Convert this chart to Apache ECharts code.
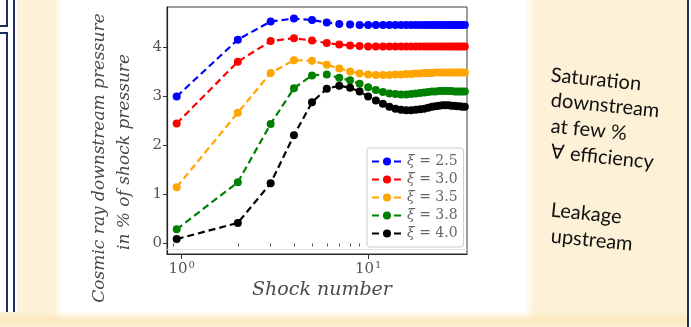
<!DOCTYPE html>
<html>
<head>
<meta charset="utf-8">
<script src="https://cdn.jsdelivr.net/npm/echarts@6/dist/echarts.min.js"></script>
<style>
  html, body { margin: 0; padding: 0; }
  body { width: 691px; height: 327px; position: relative; overflow: hidden; background: #fdf2d7; }
  .deco { position: absolute; }
  #chart { position: absolute; left: 0; top: 0; width: 691px; height: 327px; }
</style>
</head>
<body>
<!-- slide decoration -->
<div class="deco" style="left:0;top:0;width:17px;height:327px;background:#fff"></div>
<div class="deco" style="left:-4px;top:-3px;width:8px;height:26px;border:2px solid #1d2d5c;background:#fff"></div>
<div class="deco" style="left:-4px;top:32px;width:8px;height:300px;border:2px solid #1d2d5c;background:#fff"></div>
<div class="deco" style="left:13px;top:0;width:2px;height:327px;background:#1d2d5c"></div>
<div class="deco" style="left:0;top:312px;width:691px;height:15px;background:linear-gradient(#fdf2d7,#fbe8bf 40%,#fdf0d3)"></div>
<div class="deco" style="left:62px;top:-10px;width:464px;height:322px;background:#fff;box-shadow:0 0 6px 4px rgba(255,255,255,0.9)"></div>
<div class="deco" style="left:687px;top:0;width:2px;height:327px;background:#1d2d5c"></div>
<div class="deco" style="left:689px;top:0;width:2px;height:327px;background:#fff"></div>
<div id="chart"></div>
<script>
// shock number (first point sits slightly left of 10^0 in the figure)
const shockNumber = [0.94, 2, 3, 4, 5, 6, 7, 8, 9, 10, 11, 12, 13, 14, 15, 16, 17, 18, 19, 20, 21, 22, 23, 24, 25, 26, 27, 28, 29, 30, 31, 32, 33]

const xiValues = [2.5, 3.0, 3.5, 3.8, 4.0]
const xiColors = ['#0000ff', '#ff0000', '#ffa500', '#008000', '#000000']

// cosmic ray downstream pressure, % of shock pressure
const xi25 = [3.00, 4.16, 4.53, 4.59, 4.56, 4.51, 4.48, 4.47, 4.46, 4.46, 4.46, 4.46, 4.46, 4.46, 4.46, 4.46, 4.46, 4.46, 4.46, 4.46, 4.46, 4.46, 4.46, 4.46, 4.46, 4.46, 4.46, 4.46, 4.46, 4.46, 4.46, 4.46, 4.46]
const xi30 = [2.45, 3.71, 4.13, 4.19, 4.14, 4.09, 4.06, 4.04, 4.03, 4.02, 4.02, 4.02, 4.02, 4.02, 4.02, 4.02, 4.02, 4.02, 4.02, 4.02, 4.02, 4.02, 4.02, 4.02, 4.02, 4.02, 4.02, 4.02, 4.02, 4.02, 4.02, 4.02, 4.02]
const xi35 = [1.15, 2.67, 3.48, 3.74, 3.73, 3.65, 3.57, 3.51, 3.47, 3.45, 3.44, 3.44, 3.44, 3.45, 3.45, 3.46, 3.46, 3.47, 3.47, 3.48, 3.48, 3.48, 3.49, 3.49, 3.49, 3.49, 3.49, 3.49, 3.49, 3.49, 3.49, 3.49, 3.49]
const xi38 = [0.29, 1.25, 2.44, 3.17, 3.43, 3.45, 3.38, 3.33, 3.26, 3.19, 3.13, 3.09, 3.06, 3.05, 3.04, 3.04, 3.05, 3.06, 3.07, 3.08, 3.09, 3.10, 3.10, 3.11, 3.11, 3.11, 3.11, 3.11, 3.10, 3.10, 3.10, 3.10, 3.10]
const xi40 = [0.09, 0.42, 1.23, 2.21, 2.88, 3.16, 3.22, 3.18, 3.10, 3.00, 2.92, 2.85, 2.79, 2.75, 2.73, 2.72, 2.72, 2.73, 2.74, 2.75, 2.77, 2.79, 2.80, 2.81, 2.82, 2.82, 2.82, 2.81, 2.81, 2.80, 2.80, 2.79, 2.79]
const seriesValues = [xi25, xi30, xi35, xi38, xi40]

const yTicks = [0, 1, 2, 3, 4]
const xMajorTicks = [1, 10]
const xMinorTicks = [0.9, 2, 3, 4, 5, 6, 7, 8, 9, 20, 30]

const yTitle = ['Cosmic ray downstream pressure', 'in % of shock pressure']
const xTitle = 'Shock number'
const noteLines = ['Saturation', 'downstream', 'at few %', '\u2200 efficiency', 'Leakage', 'upstream']
const noteY = [75, 100, 126, 152, 210, 236]

const serif = '"DejaVu Serif", serif'
const chart = echarts.init(document.getElementById('chart'), null, { renderer: 'canvas' })

const series = xiValues.map((xi, i) => ({
  name: 'ξ = ' + xi.toFixed(1),
  type: 'line',
  data: shockNumber.map((x, j) => [x, seriesValues[i][j]]),
  symbol: 'circle',
  symbolSize: 8,
  color: xiColors[i],
  lineStyle: { width: 2.2, type: [7, 4] },
  clip: true,
  z: 3 + i
}))

// faint line just under zero
series[0].markLine = {
  silent: true,
  symbol: 'none',
  label: { show: false },
  lineStyle: { color: '#e2e2e2', type: 'solid', width: 1 },
  data: [{ yAxis: -0.11 }]
}

const graphic = [
  {
    type: 'text', x: 100, y: 158, rotation: Math.PI / 2, silent: true,
    style: { text: yTitle[0], font: 'italic 17px ' + serif, fill: '#4a4a4a', textAlign: 'center', textVerticalAlign: 'middle' }
  },
  {
    type: 'text', x: 125, y: 152, rotation: Math.PI / 2, silent: true,
    style: { text: yTitle[1], font: 'italic 17px ' + serif, fill: '#4a4a4a', textAlign: 'center', textVerticalAlign: 'middle' }
  },
  {
    type: 'text', x: 322, y: 290, silent: true,
    style: { text: xTitle, font: 'italic 19px ' + serif, fill: '#4a4a4a', textAlign: 'center', textVerticalAlign: 'middle' }
  }
].concat(noteLines.map((t, i) => ({
  type: 'text', x: 551, y: noteY[i], rotation: -0.1, silent: true,
  style: { text: t, font: '20px Lato, "Open Sans", sans-serif', fill: '#111', textAlign: 'left', textVerticalAlign: 'middle' }
})))

chart.setOption({
  animation: false,
  backgroundColor: 'transparent',
  grid: {
    left: 167, top: 7, width: 300, height: 247,
    show: true, borderColor: '#3a3a3a', borderWidth: 1, backgroundColor: 'transparent'
  },
  legend: {
    left: 367, top: 148,
    orient: 'vertical',
    padding: [6, 6, 6, 4],
    itemGap: 3,
    itemWidth: 30,
    itemHeight: 10,
    backgroundColor: '#fff',
    borderColor: '#cccccc',
    borderWidth: 1,
    borderRadius: 3,
    formatter: name => '{i|ξ}' + name.slice(1),
    textStyle: {
      fontFamily: serif, fontSize: 14, color: '#666', lineHeight: 15,
      rich: { i: { fontFamily: serif, fontStyle: 'italic', fontSize: 14, color: '#666' } }
    },
    data: series.map(s => s.name)
  },
  xAxis: [
    {
      type: 'log', logBase: 10, min: 0.834, max: 33.9,
      axisLine: { show: true, onZero: false, lineStyle: { color: '#222', width: 1.2 } },
      splitLine: { show: false },
      axisTick: { show: true, length: 5, customValues: xMajorTicks, lineStyle: { color: '#333' } },
      axisLabel: {
        customValues: xMajorTicks, margin: 6,
        formatter: v => '{b|10}{s|' + Math.round(Math.log10(v)) + '}',
        rich: {
          b: { fontFamily: serif, fontSize: 15, color: '#555' },
          s: { fontFamily: serif, fontSize: 10, color: '#555', verticalAlign: 'top', padding: [0, 0, 8, 1] }
        }
      }
    },
    {
      type: 'log', logBase: 10, min: 0.834, max: 33.9, position: 'bottom',
      axisLine: { show: false },
      splitLine: { show: false },
      axisTick: { show: true, length: 3, customValues: xMinorTicks, lineStyle: { color: '#555' } },
      axisLabel: { show: false }
    }
  ],
  yAxis: {
    type: 'value', min: -0.214, max: 4.826,
    axisLine: { show: true, onZero: false, lineStyle: { color: '#222', width: 1.2 } },
    splitLine: { show: false },
    axisTick: { show: true, length: 4, customValues: yTicks, lineStyle: { color: '#333' } },
    axisLabel: { customValues: yTicks, margin: 5, fontFamily: serif, fontSize: 15, color: '#555' }
  },
  graphic: graphic,
  series: series
})
</script>
</body>
</html>
